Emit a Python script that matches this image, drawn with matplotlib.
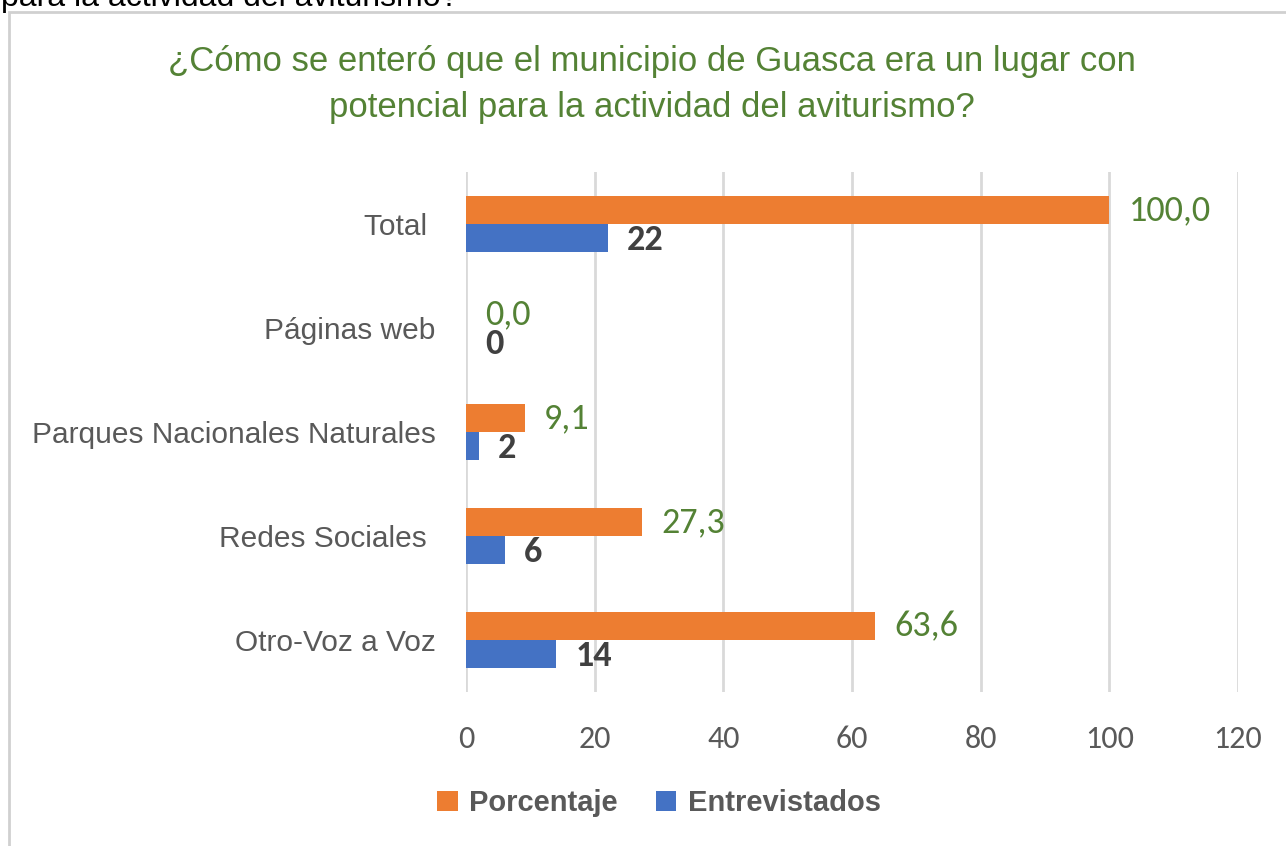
import matplotlib
matplotlib.use("Agg")
import matplotlib.pyplot as plt
from matplotlib.patches import Rectangle
import numpy as np

# Data (bottom to top, as drawn)
categories = ["Otro-Voz a Voz", "Redes Sociales ", "Parques Nacionales Naturales",
              "Páginas web", "Total "]
porcentaje = [63.6, 27.3, 9.1, 0.0, 100.0]
entrevistados = [14, 6, 2, 0, 22]
xticks = [0, 20, 40, 60, 80, 100, 120]

ORANGE = "#ED7D31"
BLUE = "#4472C4"
GREEN = "#548235"
GRAY = "#595959"
GRID = "#D9D9D9"

narrow = ["Liberation Sans Narrow", "Liberation Sans", "DejaVu Sans"]
calibri = ["Carlito", "Open Sans", "DejaVu Sans"]

W, H = 1286, 846
fig = plt.figure(figsize=(W / 100, H / 100), dpi=100)

# chart frame
fig.patches.append(Rectangle((9 / W, -0.5), 1.2, 1.5 - 12 / H, transform=fig.transFigure,
                             fill=False, edgecolor="#D0D0D0", linewidth=2))
# caption text of the document, cut off above the frame
fig.text(1 / W, 1 - 6 / H, "para la actividad del aviturismo?", fontsize=23,
         family=["Liberation Sans", "DejaVu Sans"], color="black", va="baseline")

ax = fig.add_axes([466 / W, 1 - 692 / H, (1238 - 466) / W, (692 - 172) / H])

y = np.arange(len(categories))
h = 0.265
ax.barh(y + h / 2, porcentaje, height=h, color=ORANGE, label="Porcentaje")
ax.barh(y - h / 2, entrevistados, height=h, color=BLUE, label="Entrevistados")

for yi, p, e in zip(y, porcentaje, entrevistados):
    ax.text(p + 3, yi + h / 2, f"{p:.1f}".replace(".", ","), color=GREEN,
            fontsize=26, family=calibri, va="center", ha="left")
    ax.text(e + 3, yi - h / 2 - 0.02, f"{e}", color="#404040", fontsize=26,
            family=calibri, fontweight="bold", va="center", ha="left")

ax.set_xlim(0, 120)
ax.set_ylim(-0.5, len(categories) - 0.5)
ax.set_xticks(xticks)
ax.set_xticklabels([str(t) for t in xticks], family=calibri, fontsize=23, color=GRAY)
ax.set_yticks(y)
ax.set_yticklabels(categories, family=narrow, fontsize=21.5, color=GRAY)
ax.tick_params(axis="both", length=0)
ax.tick_params(axis="x", pad=24)
ax.tick_params(axis="y", pad=22)
ax.grid(axis="x", color=GRID, linewidth=2)
ax.set_axisbelow(True)
for s in ax.spines.values():
    s.set_visible(False)

fig.text(652 / W, 1 - 62 / H, "¿Cómo se enteró que el municipio de Guasca era un lugar con",
         ha="center", va="center", fontsize=25, family=narrow, color=GREEN)
fig.text(652 / W, 1 - 108 / H, "potencial para la actividad del aviturismo?",
         ha="center", va="center", fontsize=25, family=narrow, color=GREEN)

leg = fig.legend(loc="center", bbox_to_anchor=(659 / W, 1 - 803 / H), ncol=2,
                 frameon=False, handlelength=0.7, handleheight=0.7,
                 columnspacing=1.3, handletextpad=0.4,
                 prop={"family": narrow, "size": 21, "weight": "bold"})
for t in leg.get_texts():
    t.set_color(GRAY)

fig.savefig("out.png", dpi=100)
